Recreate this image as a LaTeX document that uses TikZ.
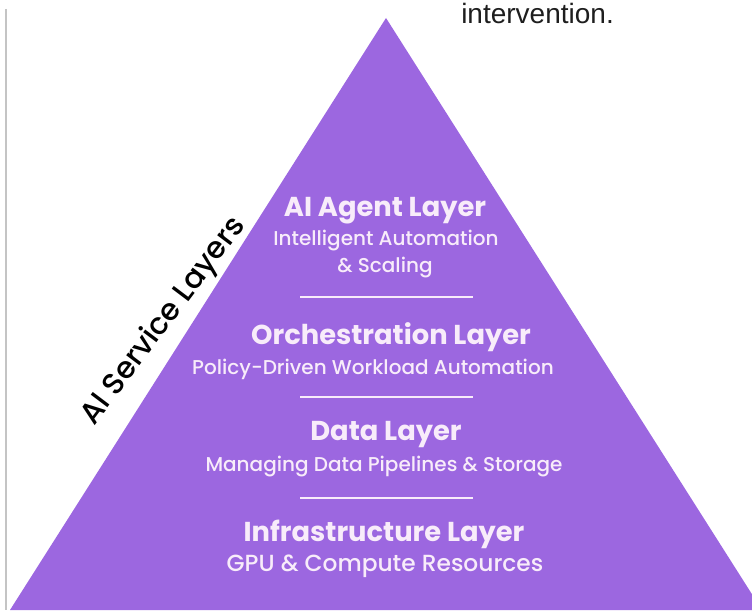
\documentclass[tikz,border=0pt]{standalone}
\usepackage{fontspec}
\setmainfont{Poppins}
\newfontfamily\midfont{Poppins}[UprightFont=* Medium]
\newfontfamily\notefont{Liberation Sans}
\usetikzlibrary{positioning}
\definecolor{LayerPurple}{RGB}{156,103,224}
\definecolor{LayerInk}{RGB}{248,236,250}
\definecolor{EdgeGrey}{RGB}{196,196,196}
\definecolor{NoteInk}{RGB}{30,30,30}

\begin{document}
\begin{tikzpicture}[x=0.75pt, y=-0.75pt,
    title/.style={font=\fontsize{20.5}{24}\selectfont\bfseries, text=LayerInk,
                  anchor=base, inner sep=0pt},
    sub/.style={font=\midfont\fontsize{15}{20}\selectfont, text=LayerInk,
                anchor=base, inner sep=0pt},
    sep/.style={draw=LayerInk, line width=1pt}
  ]
  \useasboundingbox (0,0) rectangle (752,610);
  \clip (0,0) rectangle (752,610);

  % pyramid body and the thin rule on the left
  \fill[LayerPurple] (386,18) -- (10,610) -- (762,610) -- cycle;
  \draw[EdgeGrey, line width=0.8pt] (6,9) -- (6,610);

  \node[font=\notefont\fontsize{21}{24}\selectfont, text=NoteInk,
        anchor=base west, inner sep=0pt] (note) at (461,24) {intervention.};

  \node[font=\midfont\fontsize{22.5}{24}\selectfont, text=black, rotate=53,
        anchor=base, inner sep=0pt] (side) at (170,326) {AI Service Layers};

  % layers, top to bottom
  \node[title] (agent)    at (385,216) {AI Agent Layer};
  \node[sub]   (agentA)   at (386,245) {Intelligent Automation};
  \node[sub]   (agentB)   at (385,272) {\& Scaling};
  \draw[sep] (300,297) -- (473,297);

  \node[title] (orch)     at (391,344) {Orchestration Layer};
  \node[sub]   (orchA)    at (373,374) {Policy-Driven Workload Automation};
  \draw[sep] (300,397) -- (473,397);

  \node[title] (data)     at (386,440) {Data Layer};
  \node[sub]   (dataA)    at (384,471) {Managing Data Pipelines \& Storage};
  \draw[sep] (300,498) -- (473,498);

  \node[title] (infra)    at (384,541) {Infrastructure Layer};
  \node[sub, font=\midfont\fontsize{17.5}{20}\selectfont]
               (infraA)   at (385,571) {GPU \& Compute Resources};
\end{tikzpicture}
\end{document}
